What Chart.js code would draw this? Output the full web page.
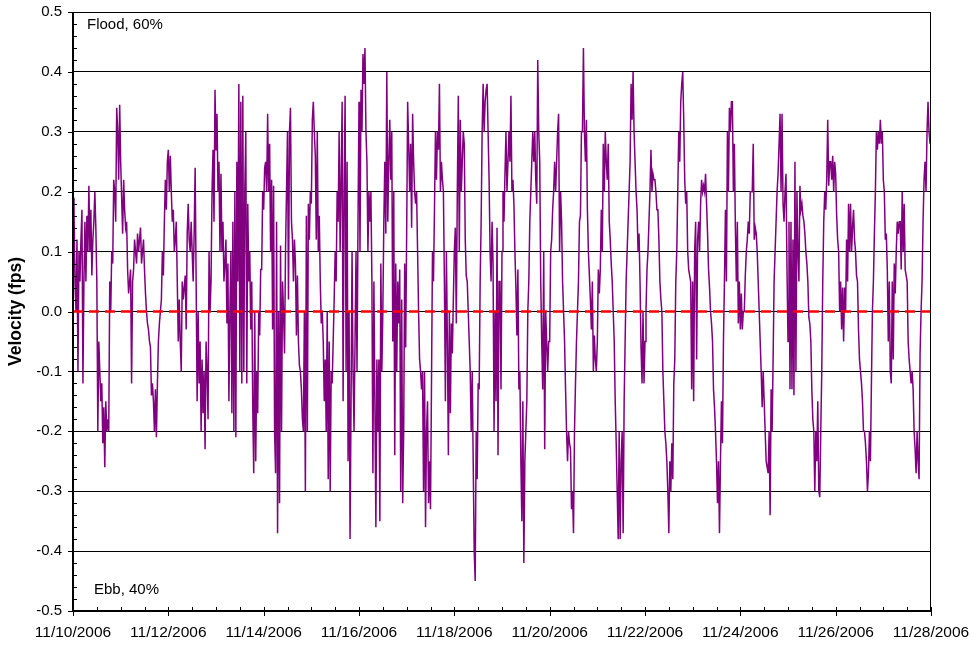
<!DOCTYPE html>
<html>
<head>
<meta charset="utf-8">
<title>Velocity (fps)</title>
<script src="https://cdn.jsdelivr.net/npm/chart.js@4.4.1/dist/chart.umd.min.js"></script>
<style>
  html, body { margin: 0; padding: 0; background: #fff; }
  canvas { display: block; }
</style>
</head>
<body>
<canvas id="chart" width="973" height="648"></canvas>
<script>
// Half-hourly velocity readings (fps), one array per day starting at midnight.
const day1110 = [0.19,0.17,0.05,0.0,0.12,-0.1,0.1,0.05,0.12,0.17,-0.12,0.05,0.15,0.05,0.16,0.1,0.21,0.1,0.17,0.06,0.12,0.15,0.2,0.14,0.05,-0.2,-0.05,-0.1,-0.15,-0.12,-0.22,-0.16,-0.26,-0.15,-0.2,-0.18,-0.2,0.05,0.0,0.1,0.08,0.22,0.2,0.15,0.34,0.3,0.22,0.345];
const day1111 = [0.25,0.19,0.13,0.22,0.17,0.14,0.15,0.07,0.03,0.05,0.07,-0.12,0.05,0.07,0.12,0.1,0.08,0.13,0.1,0.12,0.14,0.08,0.1,0.12,0.07,0.03,0.0,-0.02,-0.03,-0.05,-0.06,-0.14,-0.12,-0.15,-0.2,-0.13,-0.21,-0.12,-0.05,-0.02,0.0,0.02,0.1,0.06,0.15,0.22,0.17,0.25];
const day1112 = [0.27,0.2,0.26,0.2,0.15,0.17,0.1,0.12,0.15,0.05,-0.05,0.02,-0.05,-0.1,0.05,0.02,0.04,0.06,-0.03,0.13,0.18,0.12,0.1,0.15,0.1,0.05,0.13,0.24,0.05,-0.15,0.0,-0.12,-0.05,-0.2,-0.08,-0.17,-0.1,-0.23,-0.05,-0.1,-0.18,0.1,0.0,0.05,0.2,0.27,0.15,0.37];
const day1113 = [0.27,0.33,0.2,0.25,0.1,0.23,0.1,0.15,0.05,0.08,0.12,-0.02,0.08,-0.15,0.0,0.1,-0.17,0.15,-0.2,0.2,-0.21,0.25,0.05,0.38,-0.1,0.35,-0.12,0.36,-0.1,0.2,0.3,-0.12,0.18,0.05,0.1,-0.03,0.05,-0.16,-0.27,0.0,-0.25,-0.1,-0.17,0.0,-0.04,0.07,0.07,0.2];
const day1114 = [0.17,0.24,0.25,0.2,0.33,0.2,0.28,0.1,0.22,-0.03,0.21,-0.2,-0.27,0.15,-0.37,0.0,-0.32,0.11,-0.2,0.05,0.0,-0.07,0.1,0.2,0.3,0.02,0.3,0.34,0.15,0.12,0.05,0.12,0.08,-0.04,0.06,-0.05,-0.09,-0.1,-0.13,-0.18,-0.2,0.0,-0.3,0.16,-0.2,0.18,0.12,0.2];
const day1115 = [0.18,0.32,0.35,0.3,0.26,0.12,0.3,0.1,0.16,0.05,-0.02,0.0,-0.05,-0.15,-0.08,-0.2,0.0,-0.28,-0.05,-0.3,-0.1,-0.12,-0.05,0.02,0.1,0.05,0.2,0.15,0.3,0.1,0.22,0.35,-0.15,0.2,0.36,-0.1,0.25,-0.25,0.0,-0.38,-0.15,0.1,-0.1,-0.2,-0.05,0.1,-0.1,0.15];
const day1116 = [0.35,0.1,0.37,0.3,0.43,0.38,0.44,0.3,0.25,0.1,0.2,0.15,0.2,0.05,-0.27,0.05,-0.15,-0.36,-0.08,-0.2,-0.08,-0.35,0.08,-0.1,0.0,0.15,0.25,0.13,0.4,0.15,0.25,0.32,0.22,0.3,-0.05,0.2,-0.24,0.08,-0.1,0.05,-0.02,0.07,-0.3,0.02,-0.32,-0.2,0.08,-0.06];
const day1117 = [0.13,0.35,0.28,0.2,0.28,0.14,0.33,0.25,0.2,0.18,0.2,0.1,0.0,-0.08,-0.1,-0.13,-0.1,-0.3,-0.1,-0.36,-0.2,-0.15,-0.32,-0.25,-0.33,-0.12,0.1,0.05,0.17,0.3,0.22,0.3,0.27,0.38,0.2,0.25,0.22,0.2,0.05,-0.15,0.1,-0.05,-0.24,0.0,-0.17,-0.02,-0.07,0.02];
const day1118 = [0.1,0.14,-0.02,0.2,0.36,0.1,0.32,0.2,0.25,0.3,0.28,0.12,0.06,0.05,0.0,-0.05,-0.1,-0.2,-0.1,-0.25,-0.4,-0.45,-0.2,-0.28,-0.12,-0.13,0.05,0.15,0.3,0.38,0.3,0.35,0.37,0.38,0.3,0.22,0.1,0.05,0.15,0.08,-0.2,0.0,-0.15,0.14,-0.24,0.05,0.05,-0.13];
const day1119 = [0.1,0.2,0.15,0.23,0.3,0.2,0.25,0.3,0.25,0.36,0.2,0.22,0.18,0.1,0.04,-0.04,0.07,-0.13,-0.1,-0.25,-0.35,-0.15,-0.42,-0.25,-0.2,-0.15,0.0,0.05,0.15,0.2,0.25,0.3,0.25,0.3,0.22,0.18,0.42,0.3,0.25,0.05,-0.05,-0.13,0.1,-0.23,0.0,-0.05,-0.1,-0.05];
const day1120 = [-0.05,0.1,0.12,0.17,0.2,0.25,0.2,0.25,0.3,0.33,0.1,0.2,0.15,0.05,0.0,-0.05,-0.13,-0.2,-0.25,-0.2,-0.22,-0.23,-0.33,-0.3,-0.37,-0.2,-0.12,-0.05,0.0,0.05,0.15,0.16,0.3,0.3,0.44,0.3,0.25,0.32,0.17,0.1,0.06,0.02,-0.03,0.05,-0.1,-0.04,-0.08,-0.1];
const day1121 = [-0.05,0.07,0.03,0.07,0.17,0.1,0.28,0.2,0.3,0.25,0.22,0.28,0.15,0.12,0.08,0.05,0.0,-0.05,-0.15,-0.22,-0.3,-0.38,-0.2,-0.38,-0.25,-0.2,-0.37,-0.15,-0.05,0.05,0.1,0.15,0.2,0.25,0.38,0.32,0.4,0.3,0.25,0.2,0.17,0.1,0.13,0.05,-0.06,-0.12,0.0,-0.12];
const day1122 = [-0.05,0.0,0.07,0.1,0.15,0.2,0.27,0.2,0.23,0.22,0.22,0.2,0.17,0.17,0.12,0.05,0.02,0.0,-0.1,-0.15,-0.2,-0.22,-0.25,-0.3,-0.37,-0.25,-0.3,-0.22,-0.28,-0.12,-0.08,0.05,0.1,0.2,0.3,0.25,0.35,0.38,0.4,0.32,0.22,0.18,0.2,0.1,0.07,0.06,0.05,-0.13];
const day1123 = [0.05,-0.15,0.1,0.15,-0.08,0.12,0.15,0.1,0.18,0.22,0.2,0.21,0.2,0.23,0.18,0.13,0.07,0.04,0.0,-0.02,-0.05,-0.13,-0.16,-0.2,-0.25,-0.32,-0.25,-0.37,-0.25,-0.15,-0.22,-0.05,0.05,0.17,0.05,0.3,0.2,0.34,0.3,0.35,0.35,0.2,0.28,0.14,0.05,0.15,-0.02,0.05];
const day1124 = [-0.03,0.03,-0.03,0.0,0.0,0.06,0.1,0.12,0.15,0.13,0.2,0.2,0.2,0.28,0.12,0.14,0.13,0.1,0.05,0.0,-0.05,-0.1,-0.16,-0.1,-0.15,-0.2,-0.25,-0.26,-0.27,-0.2,-0.34,-0.13,-0.2,-0.08,0.05,0.1,0.15,0.2,0.23,0.28,0.33,0.2,0.33,0.18,0.15,0.2,0.23,0.07];
const day1125 = [-0.05,0.15,-0.13,0.15,-0.13,0.12,-0.14,0.25,-0.1,0.2,0.1,0.05,0.21,0.17,0.18,0.16,0.15,0.13,0.1,0.08,0.05,-0.01,-0.02,-0.05,-0.13,-0.18,-0.2,-0.3,-0.2,-0.25,-0.15,-0.3,-0.31,-0.2,-0.1,0.05,0.15,0.2,0.17,0.22,0.32,0.21,0.25,0.25,0.22,0.26,0.2,0.25];
const day1126 = [0.23,0.16,0.12,0.1,0.0,0.05,-0.03,0.04,-0.05,0.04,0.0,0.12,0.05,0.18,0.1,0.18,0.1,0.14,0.17,0.12,0.1,0.06,0.05,-0.03,-0.08,-0.1,-0.12,-0.15,-0.2,-0.2,-0.22,-0.25,-0.3,-0.27,-0.2,-0.25,-0.12,0.0,0.05,0.13,0.2,0.3,0.27,0.3,0.28,0.32,0.28,0.3];
// last day also carries the midnight reading of 11/28
const day1127 = [0.22,0.2,0.12,0.13,0.07,-0.05,0.05,-0.1,-0.12,0.05,-0.08,0.08,0.03,0.1,0.15,0.13,0.15,0.15,0.07,0.2,0.1,0.18,0.07,0.06,0.05,-0.05,-0.08,-0.1,-0.12,-0.1,-0.13,-0.2,-0.23,-0.27,-0.2,-0.25,-0.28,-0.07,0.0,0.05,0.15,0.22,0.25,0.2,0.3,0.35,0.3,0.28,0.3];

const dailySeries = [day1110, day1111, day1112, day1113, day1114, day1115, day1116, day1117, day1118,
                     day1119, day1120, day1121, day1122, day1123, day1124, day1125, day1126, day1127];
const samplesPerDay = 48;

// Date labels every second day along the time axis.
const xTickLabels = ['11/10/2006', '11/12/2006', '11/14/2006', '11/16/2006', '11/18/2006',
                     '11/20/2006', '11/22/2006', '11/24/2006', '11/26/2006', '11/28/2006'];
const yAxisTitle = 'Velocity (fps)';
const floodLabel = 'Flood, 60%';
const ebbLabel = 'Ebb, 40%';
const zeroLevel = 0;

// x is measured in days since 11/10/2006 00:00
const velocityPoints = [];
dailySeries.forEach((values, d) => {
  values.forEach((v, i) => velocityPoints.push({ x: d + i / samplesPerDay, y: v }));
});
const spanDays = (xTickLabels.length - 1) * 2;
const zeroPoints = [{ x: 0, y: zeroLevel }, { x: spanDays, y: zeroLevel }];

const FONT = '"Liberation Sans", Arial, Helvetica, sans-serif';

// Frame, tick marks and in-plot notes drawn on top of the series.
const framePlugin = {
  id: 'frame',
  afterDraw(chart) {
    const { ctx, chartArea: { left, right, top, bottom }, scales: { x, y } } = chart;
    ctx.save();
    ctx.strokeStyle = '#000';

    ctx.lineWidth = 1;
    ctx.beginPath();
    ctx.moveTo(left, top + 0.5); ctx.lineTo(right, top + 0.5);
    ctx.moveTo(right - 0.5, top); ctx.lineTo(right - 0.5, bottom);
    ctx.stroke();

    // y minor ticks (inside) and major ticks (outside)
    ctx.beginPath();
    for (let i = -25; i <= 25; i++) {
      const py = Math.round(y.getPixelForValue(i * 0.02)) + 0.5;
      if (i % 5 === 0) { ctx.moveTo(left - 5, py); ctx.lineTo(left, py); }
      else { ctx.moveTo(left, py); ctx.lineTo(left + 4, py); }
    }
    // x ticks every half day, longer crossing ticks at labelled dates
    for (let i = 0; i <= spanDays * 2; i++) {
      const px = Math.round(x.getPixelForValue(i / 2)) + 0.5;
      if (i % 4 === 0) { ctx.moveTo(px, bottom - 4); ctx.lineTo(px, bottom + 5); }
      else { ctx.moveTo(px, bottom - 4); ctx.lineTo(px, bottom); }
    }
    ctx.stroke();

    // axis lines
    ctx.lineWidth = 2;
    ctx.beginPath();
    ctx.moveTo(left, top); ctx.lineTo(left, bottom + 1);
    ctx.moveTo(left - 1, bottom); ctx.lineTo(right, bottom);
    ctx.stroke();

    ctx.fillStyle = '#000';
    ctx.font = '15px ' + FONT;
    ctx.textBaseline = 'middle';
    ctx.textAlign = 'left';
    ctx.fillText(floodLabel, left + 14, top + 13);
    ctx.fillText(ebbLabel, left + 21, bottom - 21);
    ctx.restore();
  }
};

new Chart(document.getElementById('chart'), {
  type: 'line',
  data: {
    datasets: [
      {
        label: 'Zero',
        data: zeroPoints,
        borderColor: '#ff0000',
        borderWidth: 2.5,
        borderDash: [10, 6],
        pointRadius: 0,
        order: 0
      },
      {
        label: 'Velocity',
        data: velocityPoints,
        borderColor: '#800080',
        borderWidth: 1.5,
        pointRadius: 0,
        tension: 0,
        order: 1
      }
    ]
  },
  options: {
    responsive: false,
    animation: false,
    devicePixelRatio: 1,
    layout: { padding: { left: 0, top: 12, right: 42, bottom: 0 } },
    plugins: { legend: { display: false }, tooltip: { enabled: false } },
    scales: {
      x: {
        type: 'linear',
        min: 0,
        max: spanDays,
        grid: { display: false, drawTicks: false },
        border: { display: false },
        ticks: {
          stepSize: 0.5,
          autoSkip: false,
          maxRotation: 0,
          padding: 12,
          color: '#000',
          font: { family: FONT, size: 15.5 },
          callback: (v) => (Number.isInteger(v) && v % 2 === 0) ? xTickLabels[v / 2] : ''
        },
        afterFit(scale) { scale.height = 37; scale.paddingLeft = 0; scale.paddingRight = 0; }
      },
      y: {
        min: -0.5,
        max: 0.5,
        grid: { color: '#000', lineWidth: 1, drawTicks: false },
        border: { display: false },
        ticks: {
          stepSize: 0.1,
          padding: 11,
          color: '#000',
          font: { family: FONT, size: 15 },
          callback: (v) => (Math.abs(v) < 1e-9 ? 0 : v).toFixed(1)
        },
        title: {
          display: true,
          text: yAxisTitle,
          color: '#000',
          font: { family: FONT, size: 17.5, weight: 'bold' },
          padding: { top: 6, bottom: 0 }
        },
        afterFit(scale) { scale.width = 73; scale.paddingTop = 0; scale.paddingBottom = 0; }
      }
    }
  },
  plugins: [framePlugin]
});
</script>
</body>
</html>
